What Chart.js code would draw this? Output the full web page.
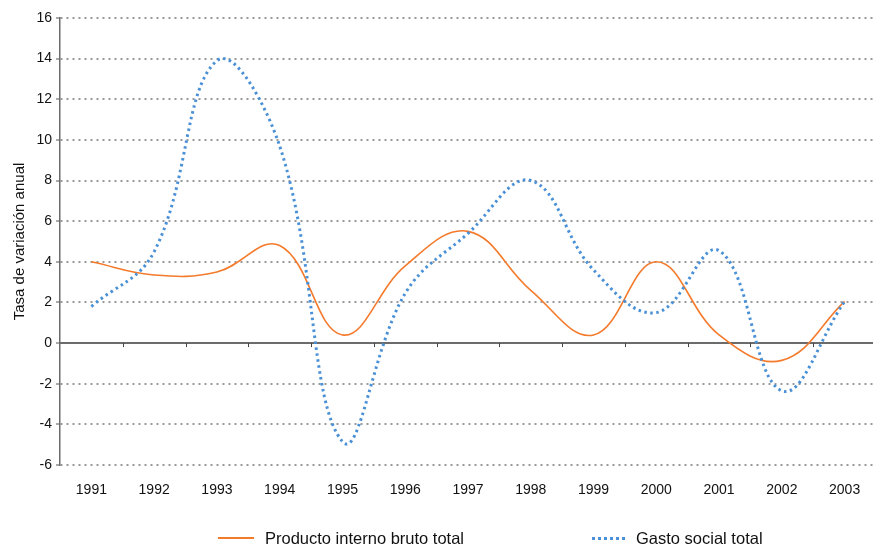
<!DOCTYPE html>
<html>
<head>
<meta charset="utf-8">
<script src="https://cdn.jsdelivr.net/npm/chart.js@4"></script>
<style>
    html, body { margin: 0; padding: 0; background: #fff; overflow: hidden; }
    #caja { position: relative; width: 873px; height: 545px; overflow: hidden; }
    #grafico { position: absolute; left: 0; top: 0; }
    #leyenda { position: absolute; top: 528px; left: 0; width: 873px; height: 20px;
        font-family: "Liberation Sans", Arial, sans-serif; font-size: 16.5px; line-height: 20px; color: #111; }
    .item { position: absolute; top: 0; display: flex; align-items: center; height: 20px; }
    .muestra { display: inline-block; width: 36px; margin-right: 11px; }
</style>
</head>
<body>
<div id="caja">
    <!-- el area de trazado del original sigue unos pixeles mas alla del borde derecho -->
    <canvas id="grafico" width="876" height="545"></canvas>
    <div id="leyenda"></div>
</div>
<script>
// datos (tasa de variacion anual, %)
const anios = ['1991', '1992', '1993', '1994', '1995', '1996', '1997', '1998', '1999', '2000', '2001', '2002', '2003'];
const pibTotal = [4.0, 3.35, 3.5, 4.8, 0.4, 3.8, 5.5, 2.6, 0.4, 4.0, 0.4, -0.85, 2.05];
const gastoSocial = [1.8, 4.5, 13.9, 9.7, -4.85, 2.45, 5.4, 8.0, 3.6, 1.5, 4.55, -2.35, 2.05];
const nombresSeries = ['Producto interno bruto total', 'Gasto social total'];
const ejeY = { min: -6, max: 16, paso: 2 };

const NARANJA = '#f47a2c';
const AZUL = '#4a90d6';
const fuente = '"Liberation Sans", Arial, sans-serif';

// linea del cero y marcas del eje de categorias sobre ella
const lineaCero = {
    id: 'lineaCero',
    beforeDatasetsDraw(chart) {
        const { ctx, chartArea, scales } = chart;
        const y0 = scales.y.getPixelForValue(0);
        const x = scales.x;
        ctx.save();
        ctx.strokeStyle = '#6b6b6b';
        ctx.lineWidth = 2;
        ctx.beginPath();
        ctx.moveTo(chartArea.left, y0);
        ctx.lineTo(chartArea.right, y0);
        ctx.stroke();
        ctx.lineWidth = 1;
        ctx.strokeStyle = '#444';
        const n = anios.length;
        for (let i = 1; i < n; i++) {
            const xb = Math.round((x.getPixelForValue(i - 1) + x.getPixelForValue(i)) / 2) + 0.5;
            ctx.beginPath();
            ctx.moveTo(xb, y0);
            ctx.lineTo(xb, y0 + 4);
            ctx.stroke();
        }
        ctx.restore();
    }
};

const ctx = document.getElementById('grafico').getContext('2d');
new Chart(ctx, {
    type: 'line',
    data: {
        labels: anios,
        datasets: [{
            label: nombresSeries[0],
            data: pibTotal,
            borderColor: NARANJA,
            borderWidth: 1.6,
            pointRadius: 0,
            fill: false,
            tension: 0.4,
            order: 2
        }, {
            label: nombresSeries[1],
            data: gastoSocial,
            borderColor: AZUL,
            borderWidth: 3,
            borderDash: [2.5, 3.5],
            pointRadius: 0,
            fill: false,
            tension: 0.4,
            order: 1
        }]
    },
    options: {
        animation: false,
        responsive: false,
        devicePixelRatio: 1,
        layout: { padding: { top: 18, right: 0, bottom: 50, left: 0 } },
        scales: {
            x: {
                offset: true,
                grid: { display: false },
                border: { display: false },
                ticks: {
                    padding: 9,
                    color: '#111',
                    font: { family: fuente, size: 14 },
                    maxRotation: 0
                },
                afterFit: s => { s.height = 30; }
            },
            y: {
                min: ejeY.min,
                max: ejeY.max,
                grid: {
                    color: c => (c.tick && c.tick.value === 0) ? 'rgba(0,0,0,0)' : '#9a9a9a',
                    lineWidth: 2,
                    tickColor: '#555',
                    tickWidth: 1,
                    tickLength: 4
                },
                border: { display: true, color: '#6b6b6b', width: 1.5, dash: [2, 4] },
                ticks: {
                    stepSize: ejeY.paso,
                    padding: 4,
                    color: '#111',
                    font: { family: fuente, size: 14 }
                },
                title: {
                    display: true,
                    text: 'Tasa de variación anual',
                    color: '#111',
                    font: { family: fuente, size: 15 },
                    padding: { top: 11, bottom: 0 }
                },
                afterFit: s => { s.width = 60; }
            }
        },
        plugins: {
            legend: { display: false },
            tooltip: { enabled: false }
        }
    },
    plugins: [lineaCero]
});

// leyenda abajo, con las mismas muestras de linea
const leyenda = document.getElementById('leyenda');
const posiciones = [218, 592];
const estilos = [
    'border-top: 2px solid ' + NARANJA,
    'border-top: 3px dotted ' + AZUL + '; width: 33px;'
];
nombresSeries.forEach((nombre, i) => {
    const item = document.createElement('div');
    item.className = 'item';
    item.style.left = posiciones[i] + 'px';
    const m = document.createElement('span');
    m.className = 'muestra';
    m.style.cssText = estilos[i];
    item.appendChild(m);
    const t = document.createElement('span');
    t.textContent = nombre;
    item.appendChild(t);
    leyenda.appendChild(item);
});
</script>
</body>
</html>
